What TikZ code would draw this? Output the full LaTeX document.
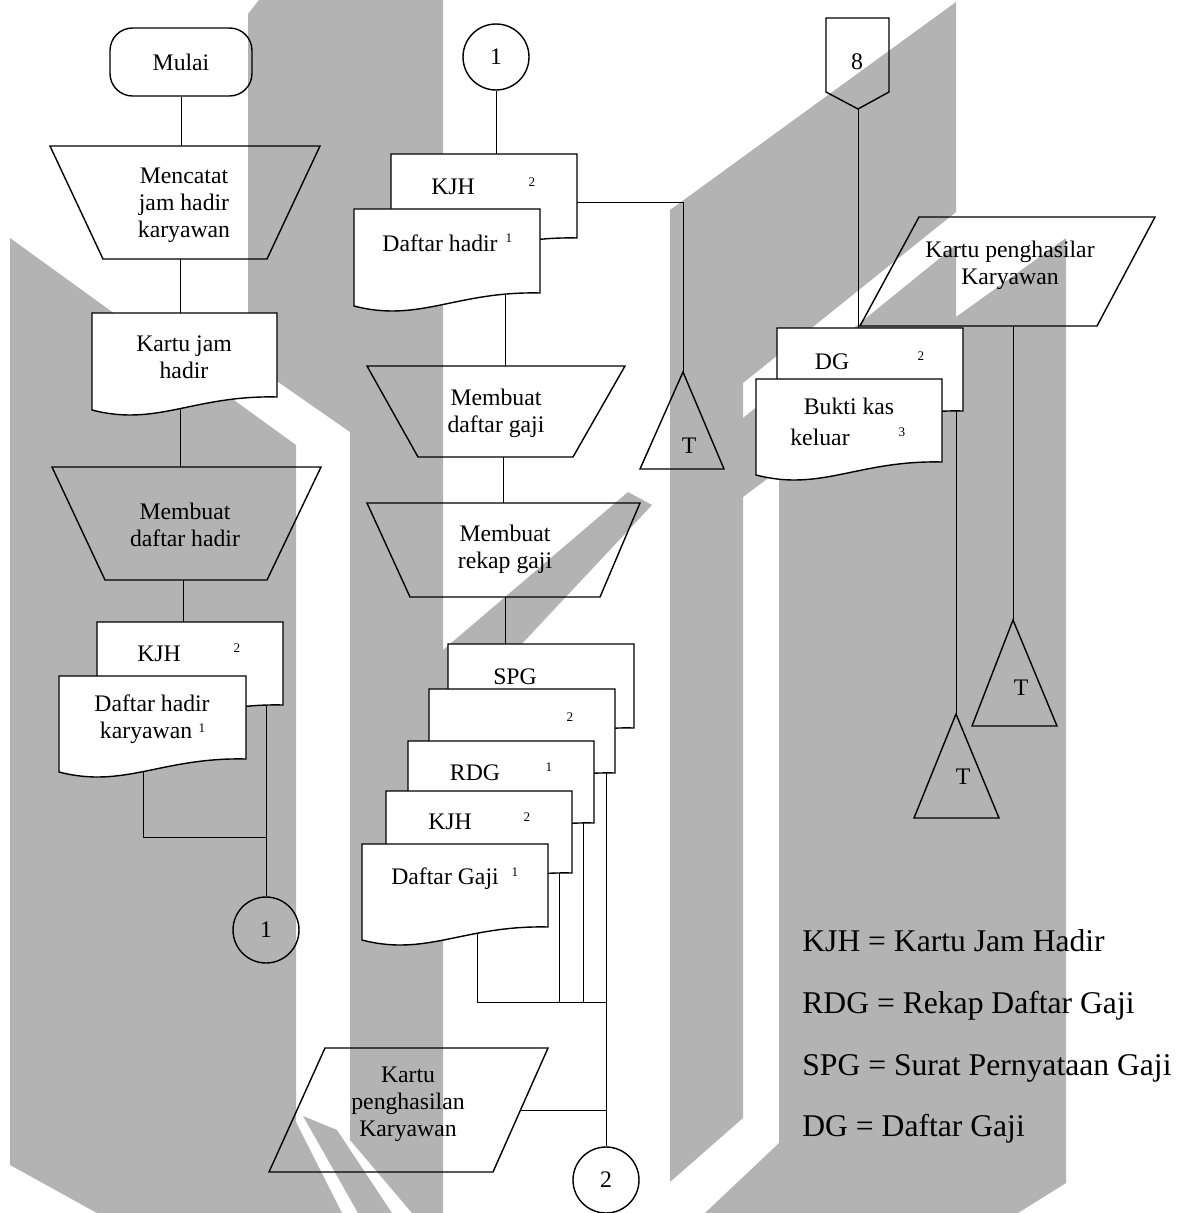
\documentclass[tikz,border=0pt]{standalone}
\usepackage{fontspec}
\setmainfont{Liberation Serif}

\tikzset{
  outline/.style={line width=0.8pt},
  box/.style={line width=0.8pt, fill=white},
  flow/.style={line width=0.45pt},
  txt/.style={font=\fontsize{13.5}{15.4}\selectfont, align=center, inner sep=0pt},
  supnum/.style={font=\fontsize{7.5}{8}\selectfont, inner sep=0pt},
  conn/.style={circle, draw, line width=0.8pt, minimum size=1.32cm, inner sep=0pt,
    font=\fontsize{13.5}{15.4}\selectfont},
  term/.style={draw, rectangle, rounded corners=0.45cm, minimum width=2.84cm,
    minimum height=1.36cm, line width=0.8pt, font=\fontsize{13.5}{15.4}\selectfont},
  legend/.style={font=\fontsize{18}{20}\selectfont, anchor=base west, inner sep=0pt},
}

% document symbol: x1, y1 (top left), x2, y2 (right end of the wavy bottom)
\newcommand{\docshape}[4]{%
  \filldraw[box] (#1,#2) -- (#3,#2) -- (#3,#4)
    .. controls ({#3-0.45*(#3-#1)},{#4-2}) and ({#1+0.35*(#3-#1)},{#4+30}) .. (#1,{#4+13}) -- cycle;}

\begin{document}
\begin{tikzpicture}[x=0.02cm, y=-0.02cm]

% Colors
\definecolor{wmgray}{RGB}{179,179,179}

\useasboundingbox (0,0) rectangle (1193,1213);

% Watermark
\fill[wmgray] (10,238) -- (296,445) -- (296,1122) -- (342,1213) -- (97,1213) -- (10,1165) -- cycle;
\fill[wmgray] (248,14) -- (259,0) -- (350,0) -- (350,432) -- (248,361) -- cycle;
\fill[wmgray] (350,0) -- (443,0) -- (443,1213) -- (412,1213) -- (350,1140) -- cycle;
\fill[wmgray] (303,1116) -- (337,1130) -- (392,1213) -- (358,1213) -- cycle;
\fill[wmgray] (443,650) -- (628,492) -- (652,505) -- (443,728) -- cycle;
\fill[wmgray] (670,210) -- (956,2) -- (956,212) -- (743,383) -- (743,1118) -- (670,1182) -- cycle;
\fill[wmgray] (743,418) -- (956,245) -- (956,317) -- (1066,238) -- (1066,1183) -- (1018,1213)
  -- (705,1213) -- (779,1143) -- (779,470) -- (743,497) -- cycle;

% Connection points
\coordinate (catat-n) at (181,146);
\coordinate (catat-s) at (180,259);
\coordinate (kartu-n) at (180,313);
\coordinate (kartu-s) at (180,400);
\coordinate (bh-n) at (180,467);
\coordinate (bh-s) at (183,580);
\coordinate (kjha-n) at (183,622);
\coordinate (kjha-s) at (266,700);
\coordinate (dhk-s) at (143,760);
\coordinate (join1) at (266,837);
\coordinate (kjhb-n) at (496,154);
\coordinate (kjhb-e) at (570,202);
\coordinate (dh-s) at (505,290);
\coordinate (bg-n) at (505,366);
\coordinate (bg-s) at (503,457);
\coordinate (rk-n) at (503,503);
\coordinate (rk-s) at (505,597);
\coordinate (spg-n) at (505,644);
\coordinate (dg-s) at (477,930);
\coordinate (kjhc-s) at (559,870);
\coordinate (rdg-s) at (583,820);
\coordinate (d2-s) at (606,770);
\coordinate (join2) at (606,1002);
\coordinate (join3) at (606,1110);
\coordinate (kp-e) at (521,1110);
\coordinate (p8-s) at (858,109);
\coordinate (dgb-n) at (858,328);
\coordinate (dgb-s) at (956,405);
\coordinate (kp2-s) at (1013,326);
\coordinate (t1) at (683,372);
\coordinate (t2) at (956,714);
\coordinate (t3) at (1013,620);

% Circles
\node[conn] (c1a) at (266,930) {1};
\node[conn] (c1b) at (496,57) {1};
\node[conn] (c2) at (606,1180) {2};
\node[term] (mulai) at (181,62) {Mulai};

% Connectors
\draw[flow] (mulai.south) -- (catat-n);
\draw[flow] (catat-s) -- (kartu-n);
\draw[flow] (kartu-s) -- (bh-n);
\draw[flow] (bh-s) -- (kjha-n);
\draw[flow] (dhk-s) |- (join1);
\draw[flow] (kjha-s) -- (c1a.north);
\draw[flow] (c1b.south) -- (kjhb-n);
\draw[flow] (kjhb-e) -| (t1);
\draw[flow] (dh-s) -- (bg-n);
\draw[flow] (bg-s) -- (rk-n);
\draw[flow] (rk-s) -- (spg-n);
\draw[flow] (dg-s) |- (join2);
\draw[flow] (kjhc-s) -- (kjhc-s |- join2);
\draw[flow] (rdg-s) -- (rdg-s |- join2);
\draw[flow] (d2-s) -- (c2.north);
\draw[flow] (kp-e) -- (join3);
\draw[flow] (p8-s) -- (dgb-n);
\draw[flow] (dgb-s) -- (t2);
\draw[flow] (kp2-s) -- (t3);

% Column 1
\draw[outline] (50,146) -- (320,146) -- (267,259) -- (103,259) -- cycle;
\node[txt] (catat) at (184,205) {Mencatat\\jam hadir\\karyawan};
\docshape{92}{313}{277}{397}
\node[txt] (kartu) at (184,357) {Kartu jam\\hadir};
\draw[outline] (52,467) -- (321,467) -- (267,580) -- (105,580) -- cycle;
\node[txt] (buathadir) at (185,525) {Membuat\\daftar hadir};
\docshape{97}{622}{283}{705}
\node[txt] (kjha) at (159,654) {KJH};
\node[supnum] (kjha-sup) at (237,648) {2};
\docshape{59}{676}{246}{759}
\node[txt] (dhk) at (152,719) {Daftar hadir\\karyawan\phantom{1}};
\node[supnum] (dhk-sup) at (202,728) {1};

% Column 2
\docshape{391}{154}{577}{238}
\node[txt] (kjhb) at (453,187) {KJH};
\node[supnum] (kjhb-sup) at (532,182) {2};
\docshape{354}{209}{540}{293}
\node[txt] (dh) at (440,243) {Daftar hadir};
\node[supnum] (dh-sup) at (509,238) {1};
\draw[outline] (367,366) -- (625,366) -- (573,457) -- (418,457) -- cycle;
\node[txt] (buatgaji) at (496,413) {Membuat\\daftar gaji};
\draw[outline] (367,503) -- (640,503) -- (600,597) -- (410,597) -- cycle;
\node[txt] (rekap) at (505,549) {Membuat\\rekap gaji};
\docshape{448}{644}{634}{728}
\node[txt] (spg) at (515,677) {SPG};
\docshape{429}{689}{615}{773}
\node[supnum] (d2-sup) at (570,717) {2};
\docshape{408}{741}{594}{823}
\node[txt] (rdg) at (475,773) {RDG};
\node[supnum] (rdg-sup) at (549,767) {1};
\docshape{386}{791}{572}{873}
\node[txt] (kjhc) at (450,822) {KJH};
\node[supnum] (kjhc-sup) at (527,817) {2};
\docshape{362}{844}{548}{927}
\node[txt] (dg) at (445,879) {Daftar Gaji};
\node[supnum] (dg-sup) at (515,872) {1};
\draw[outline] (325,1048) -- (548,1048) -- (493,1172) -- (269,1172) -- cycle;
\node[txt] (kp) at (408,1104) {Kartu\\penghasilan\\Karyawan};
\draw[outline] (t1) -- (640,469) -- (724,469) -- cycle;
\node[txt] (t1-lbl) at (689,446) {T};

% Column 3
\draw[outline] (826,18) -- (889,18) -- (889,92) -- (858,109) -- (826,92) -- cycle;
\node[txt] (p8) at (857,62) {8};
\draw[outline] (919,217) -- (1155,217) -- (1097,326) -- (860,326) -- cycle;
\node[txt] (kp2) at (1010,265) {Kartu penghasilar\\Karyawan};
\docshape{777}{328}{963}{411}
\node[txt] (dgb) at (832,362) {DG};
\node[supnum] (dgb-sup) at (921,356) {2};
\docshape{756}{379}{942}{462}
\node[txt] (bkk) at (849,406) {Bukti kas};
\node[txt] (bkk2) at (820,437) {keluar};
\node[supnum] (bkk-sup) at (902,432) {3};
\draw[outline] (t2) -- (914,818) -- (999,818) -- cycle;
\node[txt] (t2-lbl) at (963,777) {T};
\draw[outline] (t3) -- (972,726) -- (1057,726) -- cycle;
\node[txt] (t3-lbl) at (1021,688) {T};

% Legend
\node[legend] (lg1) at (802,951) {KJH = Kartu Jam Hadir};
\node[legend] (lg2) at (802,1013) {RDG = Rekap Daftar Gaji};
\node[legend] (lg3) at (802,1075) {SPG = Surat Pernyataan Gaji};
\node[legend] (lg4) at (802,1136) {DG = Daftar Gaji};

\end{tikzpicture}
\end{document}
